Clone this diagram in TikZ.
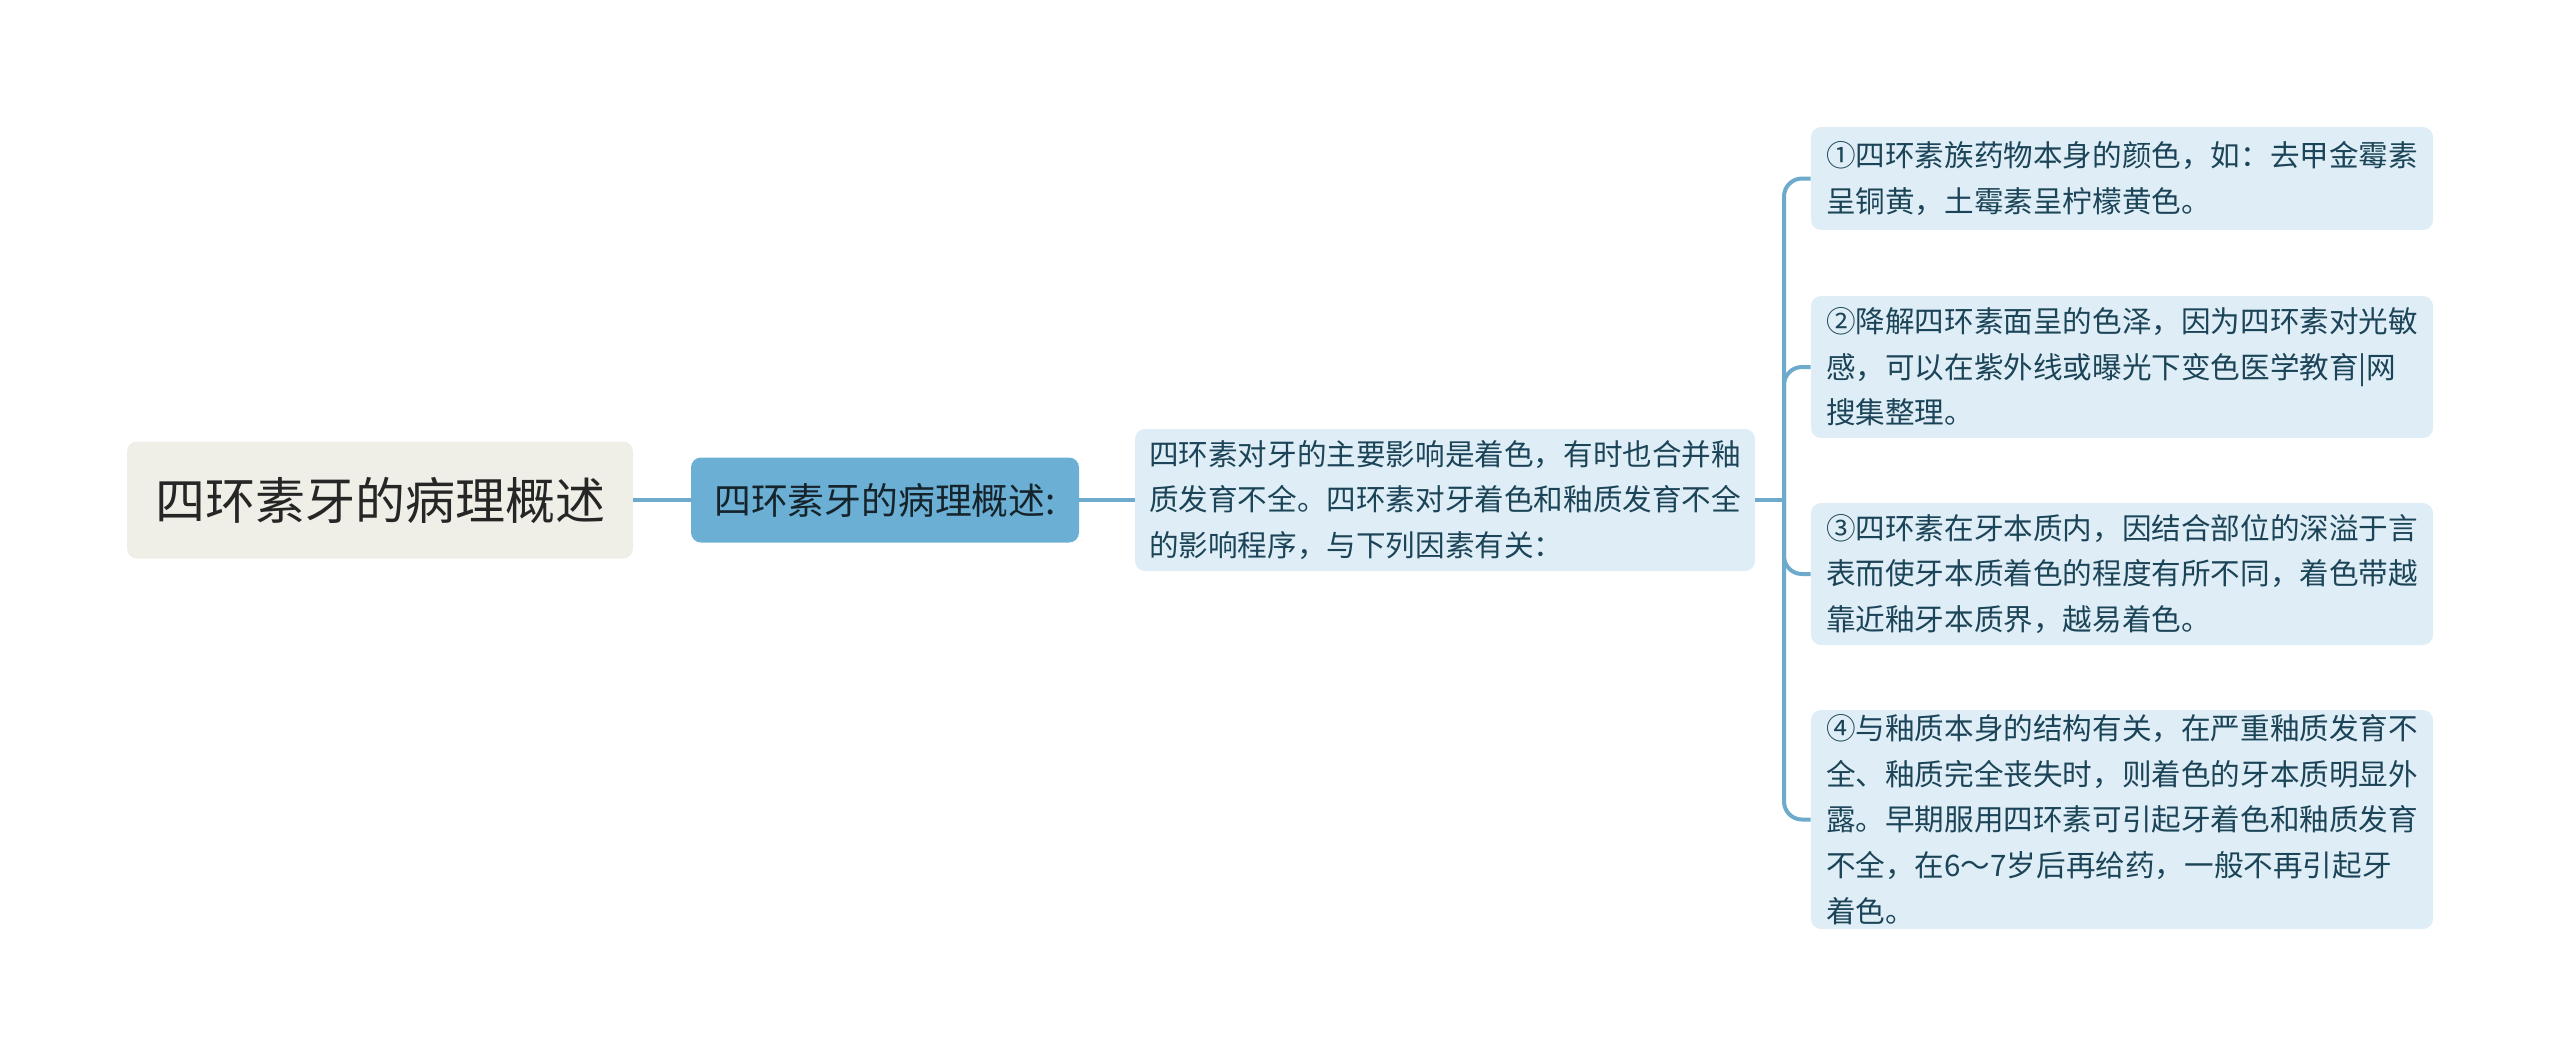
\documentclass[tikz,border=0pt]{standalone}
\usepackage{fontspec}
\setmainfont{Noto Sans CJK SC}
\definecolor{rootfill}{HTML}{EFEFE7}
\definecolor{topicfill}{HTML}{6BAFD4}
\definecolor{leaffill}{HTML}{DFEEF6}
\definecolor{linkblue}{HTML}{6DAACB}
\definecolor{leaftext}{HTML}{1C4458}
\begin{document}
\begin{tikzpicture}[x=0.5pt, y=-0.5pt,
    rootbox/.style={rectangle, rounded corners=5pt, fill=rootfill, text=black!85,
        minimum width=253pt, minimum height=58.5pt, font=\fontsize{25pt}{30pt}\selectfont},
    topicbox/.style={rectangle, rounded corners=5pt, fill=topicfill, text=black!80!topicfill,
        minimum width=194pt, minimum height=42.5pt, font=\fontsize{18.4pt}{22pt}\selectfont},
    leafbox/.style={rectangle, rounded corners=5pt, fill=leaffill, text=leaftext,
        align=left, text width=296pt, inner xsep=7.5pt, inner ysep=0pt,
        font=\fontsize{14.8pt}{22.8pt}\selectfont},
    link/.style={draw=linkblue, line width=2pt, rounded corners=9pt}]
    \useasboundingbox (0,0) rectangle (2560,1057);

    \node[rootbox] (root) at (380,500) {四环素牙的病理概述};
    \node[topicbox] (topic) at (885,500) {四环素牙的病理概述:};
    \node[leafbox, minimum height=71pt, text width=296pt, inner xsep=7pt] (main) at (1445,500)
        {四环素对牙的主要影响是着色，有时也合并釉\\质发育不全。四环素对牙着色和釉质发育不全\\的影响程序，与下列因素有关：};

    \node[leafbox, minimum height=51.5pt] (leafa) at (2122,178.5)
        {①四环素族药物本身的颜色，如：去甲金霉素\\呈铜黄，土霉素呈柠檬黄色。};
    \node[leafbox, minimum height=71pt] (leafb) at (2122,367)
        {②降解四环素面呈的色泽，因为四环素对光敏\\感，可以在紫外线或曝光下变色医学教育|网\\搜集整理。};
    \node[leafbox, minimum height=71pt] (leafc) at (2122,574)
        {③四环素在牙本质内，因结合部位的深溢于言\\表而使牙本质着色的程度有所不同，着色带越\\靠近釉牙本质界，越易着色。};
    \node[leafbox, minimum height=109.5pt] (leafd) at (2122,819.5)
        {④与釉质本身的结构有关，在严重釉质发育不\\全、釉质完全丧失时，则着色的牙本质明显外\\露。早期服用四环素可引起牙着色和釉质发育\\不全，在6～7岁后再给药，一般不再引起牙\\着色。};

    \coordinate (fork) at (1784,500);
    \draw[link] (root.east) -- (topic.west);
    \draw[link] (topic.east) -- (main.west);
    \draw[link] (main.east) -- (fork);
    \foreach \leaf in {leafa,leafb,leafc,leafd}
        \draw[link] (fork) |- (\leaf.west);
\end{tikzpicture}
\end{document}
